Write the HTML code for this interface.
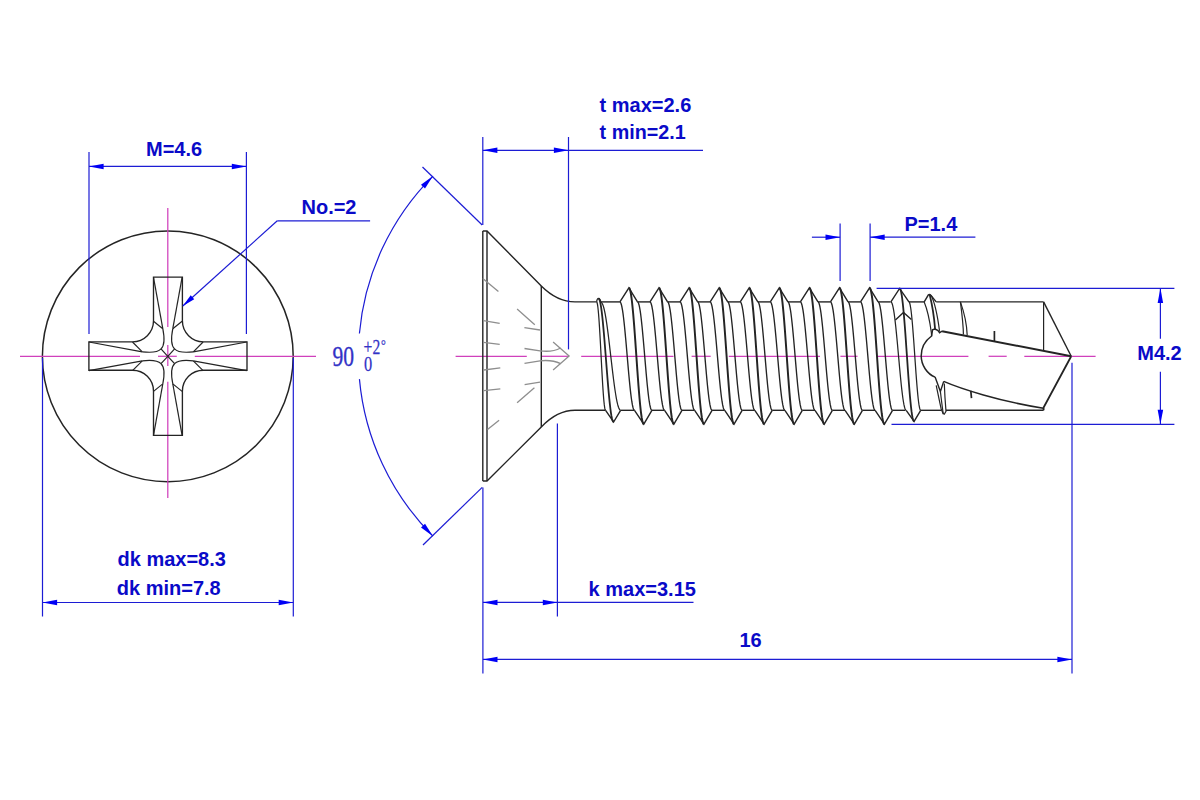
<!DOCTYPE html>
<html><head><meta charset="utf-8"><title>Screw drawing</title>
<style>
html,body{margin:0;padding:0;background:#ffffff;}
body{width:1200px;height:800px;overflow:hidden;}
svg{display:block;font-family:"Liberation Sans",sans-serif;}
</style></head><body>
<svg width="1200" height="800" viewBox="0 0 1200 800" stroke-linecap="butt" stroke-linejoin="miter">
<rect x="0" y="0" width="1200" height="800" fill="#ffffff"/>
<circle cx="167.8" cy="356.3" r="125.4" stroke="#242424" stroke-width="1.5" fill="none"/>
<line x1="20.00" y1="356.30" x2="140.00" y2="356.30" stroke="#d040bc" stroke-width="1.25" />
<line x1="158.00" y1="356.30" x2="176.80" y2="356.30" stroke="#d040bc" stroke-width="1.25" />
<line x1="194.80" y1="356.30" x2="316.00" y2="356.30" stroke="#d040bc" stroke-width="1.25" />
<line x1="167.80" y1="208.00" x2="167.80" y2="327.00" stroke="#d040bc" stroke-width="1.25" />
<line x1="167.80" y1="345.00" x2="167.80" y2="366.00" stroke="#d040bc" stroke-width="1.25" />
<line x1="167.80" y1="381.70" x2="167.80" y2="498.00" stroke="#d040bc" stroke-width="1.25" />
<path d="M153.5,277.1 L182.4,277.1 L182.4,320.8 A21.0,21.0 0 0 0 203.4,341.8 L247.0,341.8 L247.0,370.2 L203.4,370.2 A21.0,21.0 0 0 0 182.4,391.2 L182.4,435.3 L153.5,435.3 L153.5,391.2 A21.0,21.0 0 0 0 132.5,370.2 L88.9,370.2 L88.9,341.8 L132.5,341.8 A21.0,21.0 0 0 0 153.5,320.8 Z" stroke="#242424" stroke-width="1.35" fill="none" />
<line x1="153.50" y1="321.20" x2="162.80" y2="328.70" stroke="#242424" stroke-width="1.2" />
<line x1="132.50" y1="342.00" x2="142.30" y2="351.80" stroke="#242424" stroke-width="1.2" />
<line x1="153.50" y1="277.30" x2="162.80" y2="328.70" stroke="#242424" stroke-width="1.2" />
<line x1="88.90" y1="342.00" x2="142.30" y2="351.80" stroke="#242424" stroke-width="1.2" />
<path d="M162.80,328.70 C164.30,336.30 164.60,345.80 161.00,348.90 C157.30,352.90 149.80,352.70 142.30,351.80" stroke="#242424" stroke-width="1.2" fill="none" />
<line x1="161.00" y1="348.90" x2="167.80" y2="356.30" stroke="#242424" stroke-width="1.2" />
<line x1="153.50" y1="391.40" x2="162.80" y2="383.90" stroke="#242424" stroke-width="1.2" />
<line x1="132.50" y1="370.60" x2="142.30" y2="360.80" stroke="#242424" stroke-width="1.2" />
<line x1="153.50" y1="435.30" x2="162.80" y2="383.90" stroke="#242424" stroke-width="1.2" />
<line x1="88.90" y1="370.60" x2="142.30" y2="360.80" stroke="#242424" stroke-width="1.2" />
<path d="M162.80,383.90 C164.30,376.30 164.60,366.80 161.00,363.70 C157.30,359.70 149.80,359.90 142.30,360.80" stroke="#242424" stroke-width="1.2" fill="none" />
<line x1="161.00" y1="363.70" x2="167.80" y2="356.30" stroke="#242424" stroke-width="1.2" />
<line x1="182.10" y1="321.20" x2="172.80" y2="328.70" stroke="#242424" stroke-width="1.2" />
<line x1="203.10" y1="342.00" x2="193.30" y2="351.80" stroke="#242424" stroke-width="1.2" />
<line x1="182.10" y1="277.30" x2="172.80" y2="328.70" stroke="#242424" stroke-width="1.2" />
<line x1="246.70" y1="342.00" x2="193.30" y2="351.80" stroke="#242424" stroke-width="1.2" />
<path d="M172.80,328.70 C171.30,336.30 171.00,345.80 174.60,348.90 C178.30,352.90 185.80,352.70 193.30,351.80" stroke="#242424" stroke-width="1.2" fill="none" />
<line x1="174.60" y1="348.90" x2="167.80" y2="356.30" stroke="#242424" stroke-width="1.2" />
<line x1="182.10" y1="391.40" x2="172.80" y2="383.90" stroke="#242424" stroke-width="1.2" />
<line x1="203.10" y1="370.60" x2="193.30" y2="360.80" stroke="#242424" stroke-width="1.2" />
<line x1="182.10" y1="435.30" x2="172.80" y2="383.90" stroke="#242424" stroke-width="1.2" />
<line x1="246.70" y1="370.60" x2="193.30" y2="360.80" stroke="#242424" stroke-width="1.2" />
<path d="M172.80,383.90 C171.30,376.30 171.00,366.80 174.60,363.70 C178.30,359.70 185.80,359.90 193.30,360.80" stroke="#242424" stroke-width="1.2" fill="none" />
<line x1="174.60" y1="363.70" x2="167.80" y2="356.30" stroke="#242424" stroke-width="1.2" />
<line x1="89.00" y1="152.00" x2="89.00" y2="334.00" stroke="#1c1cd4" stroke-width="1.2" />
<line x1="246.40" y1="152.00" x2="246.40" y2="334.00" stroke="#1c1cd4" stroke-width="1.2" />
<line x1="89.00" y1="166.40" x2="246.40" y2="166.40" stroke="#1c1cd4" stroke-width="1.2" />
<polygon points="89.00,166.40 103.60,163.65 103.60,169.15" fill="#0000f5"/>
<polygon points="246.40,166.40 231.80,169.15 231.80,163.65" fill="#0000f5"/>
<text transform="translate(146.00,156.30) scale(0.952,1)" font-size="21.0" fill="#0a0ac8" font-weight="bold" >M=4.6</text>
<line x1="42.50" y1="358.00" x2="42.50" y2="616.50" stroke="#1c1cd4" stroke-width="1.2" />
<line x1="293.30" y1="358.00" x2="293.30" y2="616.50" stroke="#1c1cd4" stroke-width="1.2" />
<line x1="42.50" y1="602.50" x2="293.30" y2="602.50" stroke="#1c1cd4" stroke-width="1.2" />
<polygon points="42.50,602.50 57.10,599.75 57.10,605.25" fill="#0000f5"/>
<polygon points="293.30,602.50 278.70,605.25 278.70,599.75" fill="#0000f5"/>
<text transform="translate(117.50,565.80) scale(0.952,1)" font-size="21.0" fill="#0a0ac8" font-weight="bold" >dk max=8.3</text>
<text transform="translate(116.80,595.00) scale(0.952,1)" font-size="21.0" fill="#0a0ac8" font-weight="bold" >dk min=7.8</text>
<line x1="277.30" y1="220.80" x2="370.10" y2="220.80" stroke="#1c1cd4" stroke-width="1.2" />
<line x1="277.30" y1="220.80" x2="182.80" y2="306.00" stroke="#1c1cd4" stroke-width="1.2" />
<polygon points="182.80,306.00 190.71,295.36 194.20,299.23" fill="#0000f5"/>
<text transform="translate(301.50,213.50) scale(0.952,1)" font-size="21.0" fill="#0a0ac8" font-weight="bold" >No.=2</text>
<line x1="455.60" y1="356.30" x2="526.80" y2="356.30" stroke="#d040bc" stroke-width="1.25" />
<line x1="541.80" y1="356.30" x2="568.00" y2="356.30" stroke="#d040bc" stroke-width="1.25" />
<line x1="581.20" y1="356.30" x2="673.50" y2="356.30" stroke="#d040bc" stroke-width="1.25" />
<line x1="691.60" y1="356.30" x2="710.70" y2="356.30" stroke="#d040bc" stroke-width="1.25" />
<line x1="728.80" y1="356.30" x2="820.00" y2="356.30" stroke="#d040bc" stroke-width="1.25" />
<line x1="840.40" y1="356.30" x2="857.50" y2="356.30" stroke="#d040bc" stroke-width="1.25" />
<line x1="877.00" y1="356.30" x2="968.40" y2="356.30" stroke="#d040bc" stroke-width="1.25" />
<line x1="988.60" y1="356.30" x2="1006.70" y2="356.30" stroke="#d040bc" stroke-width="1.25" />
<line x1="1024.30" y1="356.30" x2="1095.60" y2="356.30" stroke="#d040bc" stroke-width="1.25" />
<path d="M482.8,231 L487,231 L541.3,286 Q557.2,301.9 575,301.9 L596.6,301.9" stroke="#242424" stroke-width="1.4" fill="none" />
<path d="M482.8,481 L487,481 L541.3,427 Q557.2,410.3 575,410.3 L605.6,410.3" stroke="#242424" stroke-width="1.4" fill="none" />
<line x1="482.80" y1="231.00" x2="482.80" y2="481.00" stroke="#242424" stroke-width="1.4" />
<line x1="487.00" y1="231.00" x2="487.00" y2="481.00" stroke="#242424" stroke-width="1.4" />
<line x1="541.30" y1="286.00" x2="541.30" y2="427.00" stroke="#242424" stroke-width="1.4" />
<line x1="482.80" y1="278.40" x2="498.40" y2="291.60" stroke="#8e8e8e" stroke-width="1.3" />
<line x1="483.40" y1="320.60" x2="499.70" y2="323.40" stroke="#8e8e8e" stroke-width="1.3" />
<line x1="483.40" y1="342.40" x2="499.70" y2="344.40" stroke="#8e8e8e" stroke-width="1.3" />
<line x1="517.10" y1="309.00" x2="534.80" y2="324.80" stroke="#8e8e8e" stroke-width="1.3" />
<line x1="524.40" y1="327.60" x2="540.00" y2="330.00" stroke="#8e8e8e" stroke-width="1.3" />
<line x1="483.80" y1="370.00" x2="500.30" y2="367.80" stroke="#8e8e8e" stroke-width="1.3" />
<line x1="483.80" y1="390.60" x2="500.30" y2="388.80" stroke="#8e8e8e" stroke-width="1.3" />
<line x1="524.60" y1="384.60" x2="540.00" y2="382.20" stroke="#8e8e8e" stroke-width="1.3" />
<line x1="517.10" y1="402.80" x2="534.40" y2="387.80" stroke="#8e8e8e" stroke-width="1.3" />
<line x1="487.50" y1="429.60" x2="499.10" y2="420.30" stroke="#8e8e8e" stroke-width="1.3" />
<path d="M524.5,348.5 L540,350.8 Q552,352.5 560.6,348" stroke="#8e8e8e" stroke-width="1.3" fill="none" />
<path d="M524.5,363.4 L540,360.8 Q552,359.5 560.6,363.6" stroke="#8e8e8e" stroke-width="1.3" fill="none" />
<path d="M553.1,342 L569.1,355.9 L553.1,370" stroke="#8e8e8e" stroke-width="1.3" fill="none" />
<path d="M619.90,301.9 L628.90,287.8 L637.50,301.9" stroke="#242424" stroke-width="1.4" fill="none" />
<path d="M634.50,410.3 L643.80,424.2 L651.90,410.3" stroke="#242424" stroke-width="1.4" fill="none" />
<path d="M619.90,301.90 L620.42,302.24 L620.94,303.26 L621.46,304.94 L621.99,307.27 L622.51,310.21 L623.03,313.72 L623.55,317.77 L624.07,322.31 L624.59,327.26 L625.11,332.58 L625.64,338.20 L626.16,344.04 L626.68,350.03 L627.20,356.10 L627.72,362.17 L628.24,368.16 L628.76,374.00 L629.29,379.62 L629.81,384.94 L630.33,389.89 L630.85,394.43 L631.37,398.48 L631.89,401.99 L632.41,404.93 L632.94,407.26 L633.46,408.94 L633.98,409.96 L634.50,410.30" stroke="#242424" stroke-width="1.35" fill="none" stroke-linejoin="round"/>
<path d="M628.90,287.80 L629.43,288.23 L629.96,289.51 L630.50,291.63 L631.03,294.55 L631.56,298.25 L632.09,302.68 L632.62,307.78 L633.16,313.48 L633.69,319.72 L634.22,326.41 L634.75,333.47 L635.29,340.82 L635.82,348.36 L636.35,356.00 L636.88,363.64 L637.41,371.18 L637.95,378.53 L638.48,385.59 L639.01,392.28 L639.54,398.52 L640.07,404.22 L640.61,409.32 L641.14,413.75 L641.67,417.45 L642.20,420.37 L642.74,422.49 L643.27,423.77 L643.80,424.20" stroke="#242424" stroke-width="1.95" fill="none" stroke-linejoin="round"/>
<path d="M637.50,301.90 L638.01,302.24 L638.53,303.26 L639.04,304.94 L639.56,307.27 L640.07,310.21 L640.59,313.72 L641.10,317.77 L641.61,322.31 L642.13,327.26 L642.64,332.58 L643.16,338.20 L643.67,344.04 L644.19,350.03 L644.70,356.10 L645.21,362.17 L645.73,368.16 L646.24,374.00 L646.76,379.62 L647.27,384.94 L647.79,389.89 L648.30,394.43 L648.81,398.48 L649.33,401.99 L649.84,404.93 L650.36,407.26 L650.87,408.94 L651.39,409.96 L651.90,410.30" stroke="#242424" stroke-width="1.35" fill="none" stroke-linejoin="round"/>
<path d="M649.98,301.9 L658.98,287.8 L667.58,301.9" stroke="#242424" stroke-width="1.4" fill="none" />
<path d="M664.58,410.3 L673.88,424.2 L681.98,410.3" stroke="#242424" stroke-width="1.4" fill="none" />
<path d="M649.98,301.90 L650.50,302.24 L651.02,303.26 L651.54,304.94 L652.07,307.27 L652.59,310.21 L653.11,313.72 L653.63,317.77 L654.15,322.31 L654.67,327.26 L655.19,332.58 L655.72,338.20 L656.24,344.04 L656.76,350.03 L657.28,356.10 L657.80,362.17 L658.32,368.16 L658.84,374.00 L659.37,379.62 L659.89,384.94 L660.41,389.89 L660.93,394.43 L661.45,398.48 L661.97,401.99 L662.49,404.93 L663.02,407.26 L663.54,408.94 L664.06,409.96 L664.58,410.30" stroke="#242424" stroke-width="1.35" fill="none" stroke-linejoin="round"/>
<path d="M658.98,287.80 L659.51,288.23 L660.04,289.51 L660.58,291.63 L661.11,294.55 L661.64,298.25 L662.17,302.68 L662.71,307.78 L663.24,313.48 L663.77,319.72 L664.30,326.41 L664.83,333.47 L665.37,340.82 L665.90,348.36 L666.43,356.00 L666.96,363.64 L667.49,371.18 L668.03,378.53 L668.56,385.59 L669.09,392.28 L669.62,398.52 L670.15,404.22 L670.69,409.32 L671.22,413.75 L671.75,417.45 L672.28,420.37 L672.82,422.49 L673.35,423.77 L673.88,424.20" stroke="#242424" stroke-width="1.95" fill="none" stroke-linejoin="round"/>
<path d="M667.58,301.90 L668.09,302.24 L668.61,303.26 L669.12,304.94 L669.64,307.27 L670.15,310.21 L670.67,313.72 L671.18,317.77 L671.69,322.31 L672.21,327.26 L672.72,332.58 L673.24,338.20 L673.75,344.04 L674.27,350.03 L674.78,356.10 L675.29,362.17 L675.81,368.16 L676.32,374.00 L676.84,379.62 L677.35,384.94 L677.87,389.89 L678.38,394.43 L678.89,398.48 L679.41,401.99 L679.92,404.93 L680.44,407.26 L680.95,408.94 L681.47,409.96 L681.98,410.30" stroke="#242424" stroke-width="1.35" fill="none" stroke-linejoin="round"/>
<path d="M680.06,301.9 L689.06,287.8 L697.66,301.9" stroke="#242424" stroke-width="1.4" fill="none" />
<path d="M694.66,410.3 L703.96,424.2 L712.06,410.3" stroke="#242424" stroke-width="1.4" fill="none" />
<path d="M680.06,301.90 L680.58,302.24 L681.10,303.26 L681.62,304.94 L682.15,307.27 L682.67,310.21 L683.19,313.72 L683.71,317.77 L684.23,322.31 L684.75,327.26 L685.27,332.58 L685.80,338.20 L686.32,344.04 L686.84,350.03 L687.36,356.10 L687.88,362.17 L688.40,368.16 L688.92,374.00 L689.45,379.62 L689.97,384.94 L690.49,389.89 L691.01,394.43 L691.53,398.48 L692.05,401.99 L692.57,404.93 L693.10,407.26 L693.62,408.94 L694.14,409.96 L694.66,410.30" stroke="#242424" stroke-width="1.35" fill="none" stroke-linejoin="round"/>
<path d="M689.06,287.80 L689.59,288.23 L690.12,289.51 L690.66,291.63 L691.19,294.55 L691.72,298.25 L692.25,302.68 L692.78,307.78 L693.32,313.48 L693.85,319.72 L694.38,326.41 L694.91,333.47 L695.45,340.82 L695.98,348.36 L696.51,356.00 L697.04,363.64 L697.57,371.18 L698.11,378.53 L698.64,385.59 L699.17,392.28 L699.70,398.52 L700.23,404.22 L700.77,409.32 L701.30,413.75 L701.83,417.45 L702.36,420.37 L702.90,422.49 L703.43,423.77 L703.96,424.20" stroke="#242424" stroke-width="1.95" fill="none" stroke-linejoin="round"/>
<path d="M697.66,301.90 L698.17,302.24 L698.69,303.26 L699.20,304.94 L699.72,307.27 L700.23,310.21 L700.75,313.72 L701.26,317.77 L701.77,322.31 L702.29,327.26 L702.80,332.58 L703.32,338.20 L703.83,344.04 L704.35,350.03 L704.86,356.10 L705.37,362.17 L705.89,368.16 L706.40,374.00 L706.92,379.62 L707.43,384.94 L707.95,389.89 L708.46,394.43 L708.97,398.48 L709.49,401.99 L710.00,404.93 L710.52,407.26 L711.03,408.94 L711.55,409.96 L712.06,410.30" stroke="#242424" stroke-width="1.35" fill="none" stroke-linejoin="round"/>
<path d="M710.14,301.9 L719.14,287.8 L727.74,301.9" stroke="#242424" stroke-width="1.4" fill="none" />
<path d="M724.74,410.3 L734.04,424.2 L742.14,410.3" stroke="#242424" stroke-width="1.4" fill="none" />
<path d="M710.14,301.90 L710.66,302.24 L711.18,303.26 L711.70,304.94 L712.23,307.27 L712.75,310.21 L713.27,313.72 L713.79,317.77 L714.31,322.31 L714.83,327.26 L715.35,332.58 L715.88,338.20 L716.40,344.04 L716.92,350.03 L717.44,356.10 L717.96,362.17 L718.48,368.16 L719.00,374.00 L719.53,379.62 L720.05,384.94 L720.57,389.89 L721.09,394.43 L721.61,398.48 L722.13,401.99 L722.65,404.93 L723.18,407.26 L723.70,408.94 L724.22,409.96 L724.74,410.30" stroke="#242424" stroke-width="1.35" fill="none" stroke-linejoin="round"/>
<path d="M719.14,287.80 L719.67,288.23 L720.20,289.51 L720.74,291.63 L721.27,294.55 L721.80,298.25 L722.33,302.68 L722.87,307.78 L723.40,313.48 L723.93,319.72 L724.46,326.41 L724.99,333.47 L725.53,340.82 L726.06,348.36 L726.59,356.00 L727.12,363.64 L727.65,371.18 L728.19,378.53 L728.72,385.59 L729.25,392.28 L729.78,398.52 L730.31,404.22 L730.85,409.32 L731.38,413.75 L731.91,417.45 L732.44,420.37 L732.98,422.49 L733.51,423.77 L734.04,424.20" stroke="#242424" stroke-width="1.95" fill="none" stroke-linejoin="round"/>
<path d="M727.74,301.90 L728.25,302.24 L728.77,303.26 L729.28,304.94 L729.80,307.27 L730.31,310.21 L730.83,313.72 L731.34,317.77 L731.85,322.31 L732.37,327.26 L732.88,332.58 L733.40,338.20 L733.91,344.04 L734.43,350.03 L734.94,356.10 L735.45,362.17 L735.97,368.16 L736.48,374.00 L737.00,379.62 L737.51,384.94 L738.03,389.89 L738.54,394.43 L739.05,398.48 L739.57,401.99 L740.08,404.93 L740.60,407.26 L741.11,408.94 L741.63,409.96 L742.14,410.30" stroke="#242424" stroke-width="1.35" fill="none" stroke-linejoin="round"/>
<path d="M740.22,301.9 L749.22,287.8 L757.82,301.9" stroke="#242424" stroke-width="1.4" fill="none" />
<path d="M754.82,410.3 L764.12,424.2 L772.22,410.3" stroke="#242424" stroke-width="1.4" fill="none" />
<path d="M740.22,301.90 L740.74,302.24 L741.26,303.26 L741.78,304.94 L742.31,307.27 L742.83,310.21 L743.35,313.72 L743.87,317.77 L744.39,322.31 L744.91,327.26 L745.43,332.58 L745.96,338.20 L746.48,344.04 L747.00,350.03 L747.52,356.10 L748.04,362.17 L748.56,368.16 L749.08,374.00 L749.61,379.62 L750.13,384.94 L750.65,389.89 L751.17,394.43 L751.69,398.48 L752.21,401.99 L752.73,404.93 L753.26,407.26 L753.78,408.94 L754.30,409.96 L754.82,410.30" stroke="#242424" stroke-width="1.35" fill="none" stroke-linejoin="round"/>
<path d="M749.22,287.80 L749.75,288.23 L750.28,289.51 L750.82,291.63 L751.35,294.55 L751.88,298.25 L752.41,302.68 L752.95,307.78 L753.48,313.48 L754.01,319.72 L754.54,326.41 L755.07,333.47 L755.61,340.82 L756.14,348.36 L756.67,356.00 L757.20,363.64 L757.73,371.18 L758.27,378.53 L758.80,385.59 L759.33,392.28 L759.86,398.52 L760.39,404.22 L760.93,409.32 L761.46,413.75 L761.99,417.45 L762.52,420.37 L763.06,422.49 L763.59,423.77 L764.12,424.20" stroke="#242424" stroke-width="1.95" fill="none" stroke-linejoin="round"/>
<path d="M757.82,301.90 L758.33,302.24 L758.85,303.26 L759.36,304.94 L759.88,307.27 L760.39,310.21 L760.91,313.72 L761.42,317.77 L761.93,322.31 L762.45,327.26 L762.96,332.58 L763.48,338.20 L763.99,344.04 L764.51,350.03 L765.02,356.10 L765.53,362.17 L766.05,368.16 L766.56,374.00 L767.08,379.62 L767.59,384.94 L768.11,389.89 L768.62,394.43 L769.13,398.48 L769.65,401.99 L770.16,404.93 L770.68,407.26 L771.19,408.94 L771.71,409.96 L772.22,410.30" stroke="#242424" stroke-width="1.35" fill="none" stroke-linejoin="round"/>
<path d="M770.30,301.9 L779.30,287.8 L787.90,301.9" stroke="#242424" stroke-width="1.4" fill="none" />
<path d="M784.90,410.3 L794.20,424.2 L802.30,410.3" stroke="#242424" stroke-width="1.4" fill="none" />
<path d="M770.30,301.90 L770.82,302.24 L771.34,303.26 L771.86,304.94 L772.39,307.27 L772.91,310.21 L773.43,313.72 L773.95,317.77 L774.47,322.31 L774.99,327.26 L775.51,332.58 L776.04,338.20 L776.56,344.04 L777.08,350.03 L777.60,356.10 L778.12,362.17 L778.64,368.16 L779.16,374.00 L779.69,379.62 L780.21,384.94 L780.73,389.89 L781.25,394.43 L781.77,398.48 L782.29,401.99 L782.81,404.93 L783.34,407.26 L783.86,408.94 L784.38,409.96 L784.90,410.30" stroke="#242424" stroke-width="1.35" fill="none" stroke-linejoin="round"/>
<path d="M779.30,287.80 L779.83,288.23 L780.36,289.51 L780.90,291.63 L781.43,294.55 L781.96,298.25 L782.49,302.68 L783.02,307.78 L783.56,313.48 L784.09,319.72 L784.62,326.41 L785.15,333.47 L785.69,340.82 L786.22,348.36 L786.75,356.00 L787.28,363.64 L787.81,371.18 L788.35,378.53 L788.88,385.59 L789.41,392.28 L789.94,398.52 L790.47,404.22 L791.01,409.32 L791.54,413.75 L792.07,417.45 L792.60,420.37 L793.14,422.49 L793.67,423.77 L794.20,424.20" stroke="#242424" stroke-width="1.95" fill="none" stroke-linejoin="round"/>
<path d="M787.90,301.90 L788.41,302.24 L788.93,303.26 L789.44,304.94 L789.96,307.27 L790.47,310.21 L790.99,313.72 L791.50,317.77 L792.01,322.31 L792.53,327.26 L793.04,332.58 L793.56,338.20 L794.07,344.04 L794.59,350.03 L795.10,356.10 L795.61,362.17 L796.13,368.16 L796.64,374.00 L797.16,379.62 L797.67,384.94 L798.19,389.89 L798.70,394.43 L799.21,398.48 L799.73,401.99 L800.24,404.93 L800.76,407.26 L801.27,408.94 L801.79,409.96 L802.30,410.30" stroke="#242424" stroke-width="1.35" fill="none" stroke-linejoin="round"/>
<path d="M800.38,301.9 L809.38,287.8 L817.98,301.9" stroke="#242424" stroke-width="1.4" fill="none" />
<path d="M814.98,410.3 L824.28,424.2 L832.38,410.3" stroke="#242424" stroke-width="1.4" fill="none" />
<path d="M800.38,301.90 L800.90,302.24 L801.42,303.26 L801.94,304.94 L802.47,307.27 L802.99,310.21 L803.51,313.72 L804.03,317.77 L804.55,322.31 L805.07,327.26 L805.59,332.58 L806.12,338.20 L806.64,344.04 L807.16,350.03 L807.68,356.10 L808.20,362.17 L808.72,368.16 L809.24,374.00 L809.77,379.62 L810.29,384.94 L810.81,389.89 L811.33,394.43 L811.85,398.48 L812.37,401.99 L812.89,404.93 L813.42,407.26 L813.94,408.94 L814.46,409.96 L814.98,410.30" stroke="#242424" stroke-width="1.35" fill="none" stroke-linejoin="round"/>
<path d="M809.38,287.80 L809.91,288.23 L810.44,289.51 L810.98,291.63 L811.51,294.55 L812.04,298.25 L812.57,302.68 L813.11,307.78 L813.64,313.48 L814.17,319.72 L814.70,326.41 L815.23,333.47 L815.77,340.82 L816.30,348.36 L816.83,356.00 L817.36,363.64 L817.89,371.18 L818.43,378.53 L818.96,385.59 L819.49,392.28 L820.02,398.52 L820.55,404.22 L821.09,409.32 L821.62,413.75 L822.15,417.45 L822.68,420.37 L823.22,422.49 L823.75,423.77 L824.28,424.20" stroke="#242424" stroke-width="1.95" fill="none" stroke-linejoin="round"/>
<path d="M817.98,301.90 L818.49,302.24 L819.01,303.26 L819.52,304.94 L820.04,307.27 L820.55,310.21 L821.07,313.72 L821.58,317.77 L822.09,322.31 L822.61,327.26 L823.12,332.58 L823.64,338.20 L824.15,344.04 L824.67,350.03 L825.18,356.10 L825.69,362.17 L826.21,368.16 L826.72,374.00 L827.24,379.62 L827.75,384.94 L828.27,389.89 L828.78,394.43 L829.29,398.48 L829.81,401.99 L830.32,404.93 L830.84,407.26 L831.35,408.94 L831.87,409.96 L832.38,410.30" stroke="#242424" stroke-width="1.35" fill="none" stroke-linejoin="round"/>
<path d="M830.46,301.9 L839.46,287.8 L848.06,301.9" stroke="#242424" stroke-width="1.4" fill="none" />
<path d="M845.06,410.3 L854.36,424.2 L862.46,410.3" stroke="#242424" stroke-width="1.4" fill="none" />
<path d="M830.46,301.90 L830.98,302.24 L831.50,303.26 L832.02,304.94 L832.55,307.27 L833.07,310.21 L833.59,313.72 L834.11,317.77 L834.63,322.31 L835.15,327.26 L835.67,332.58 L836.20,338.20 L836.72,344.04 L837.24,350.03 L837.76,356.10 L838.28,362.17 L838.80,368.16 L839.32,374.00 L839.85,379.62 L840.37,384.94 L840.89,389.89 L841.41,394.43 L841.93,398.48 L842.45,401.99 L842.97,404.93 L843.50,407.26 L844.02,408.94 L844.54,409.96 L845.06,410.30" stroke="#242424" stroke-width="1.35" fill="none" stroke-linejoin="round"/>
<path d="M839.46,287.80 L839.99,288.23 L840.52,289.51 L841.06,291.63 L841.59,294.55 L842.12,298.25 L842.65,302.68 L843.19,307.78 L843.72,313.48 L844.25,319.72 L844.78,326.41 L845.31,333.47 L845.85,340.82 L846.38,348.36 L846.91,356.00 L847.44,363.64 L847.97,371.18 L848.51,378.53 L849.04,385.59 L849.57,392.28 L850.10,398.52 L850.63,404.22 L851.17,409.32 L851.70,413.75 L852.23,417.45 L852.76,420.37 L853.30,422.49 L853.83,423.77 L854.36,424.20" stroke="#242424" stroke-width="1.95" fill="none" stroke-linejoin="round"/>
<path d="M848.06,301.90 L848.57,302.24 L849.09,303.26 L849.60,304.94 L850.12,307.27 L850.63,310.21 L851.15,313.72 L851.66,317.77 L852.17,322.31 L852.69,327.26 L853.20,332.58 L853.72,338.20 L854.23,344.04 L854.75,350.03 L855.26,356.10 L855.77,362.17 L856.29,368.16 L856.80,374.00 L857.32,379.62 L857.83,384.94 L858.35,389.89 L858.86,394.43 L859.37,398.48 L859.89,401.99 L860.40,404.93 L860.92,407.26 L861.43,408.94 L861.95,409.96 L862.46,410.30" stroke="#242424" stroke-width="1.35" fill="none" stroke-linejoin="round"/>
<path d="M860.54,301.9 L869.54,287.8 L878.14,301.9" stroke="#242424" stroke-width="1.4" fill="none" />
<path d="M875.14,410.3 L884.44,424.2 L892.54,410.3" stroke="#242424" stroke-width="1.4" fill="none" />
<path d="M860.54,301.90 L861.06,302.24 L861.58,303.26 L862.10,304.94 L862.63,307.27 L863.15,310.21 L863.67,313.72 L864.19,317.77 L864.71,322.31 L865.23,327.26 L865.75,332.58 L866.28,338.20 L866.80,344.04 L867.32,350.03 L867.84,356.10 L868.36,362.17 L868.88,368.16 L869.40,374.00 L869.93,379.62 L870.45,384.94 L870.97,389.89 L871.49,394.43 L872.01,398.48 L872.53,401.99 L873.05,404.93 L873.58,407.26 L874.10,408.94 L874.62,409.96 L875.14,410.30" stroke="#242424" stroke-width="1.35" fill="none" stroke-linejoin="round"/>
<path d="M869.54,287.80 L870.07,288.23 L870.60,289.51 L871.14,291.63 L871.67,294.55 L872.20,298.25 L872.73,302.68 L873.26,307.78 L873.80,313.48 L874.33,319.72 L874.86,326.41 L875.39,333.47 L875.93,340.82 L876.46,348.36 L876.99,356.00 L877.52,363.64 L878.05,371.18 L878.59,378.53 L879.12,385.59 L879.65,392.28 L880.18,398.52 L880.71,404.22 L881.25,409.32 L881.78,413.75 L882.31,417.45 L882.84,420.37 L883.38,422.49 L883.91,423.77 L884.44,424.20" stroke="#242424" stroke-width="1.95" fill="none" stroke-linejoin="round"/>
<path d="M878.14,301.90 L878.65,302.24 L879.17,303.26 L879.68,304.94 L880.20,307.27 L880.71,310.21 L881.23,313.72 L881.74,317.77 L882.25,322.31 L882.77,327.26 L883.28,332.58 L883.80,338.20 L884.31,344.04 L884.83,350.03 L885.34,356.10 L885.85,362.17 L886.37,368.16 L886.88,374.00 L887.40,379.62 L887.91,384.94 L888.43,389.89 L888.94,394.43 L889.45,398.48 L889.97,401.99 L890.48,404.93 L891.00,407.26 L891.51,408.94 L892.03,409.96 L892.54,410.30" stroke="#242424" stroke-width="1.35" fill="none" stroke-linejoin="round"/>
<line x1="637.50" y1="301.90" x2="649.98" y2="301.90" stroke="#242424" stroke-width="1.4" />
<line x1="651.90" y1="410.30" x2="664.58" y2="410.30" stroke="#242424" stroke-width="1.4" />
<line x1="667.58" y1="301.90" x2="680.06" y2="301.90" stroke="#242424" stroke-width="1.4" />
<line x1="681.98" y1="410.30" x2="694.66" y2="410.30" stroke="#242424" stroke-width="1.4" />
<line x1="697.66" y1="301.90" x2="710.14" y2="301.90" stroke="#242424" stroke-width="1.4" />
<line x1="712.06" y1="410.30" x2="724.74" y2="410.30" stroke="#242424" stroke-width="1.4" />
<line x1="727.74" y1="301.90" x2="740.22" y2="301.90" stroke="#242424" stroke-width="1.4" />
<line x1="742.14" y1="410.30" x2="754.82" y2="410.30" stroke="#242424" stroke-width="1.4" />
<line x1="757.82" y1="301.90" x2="770.30" y2="301.90" stroke="#242424" stroke-width="1.4" />
<line x1="772.22" y1="410.30" x2="784.90" y2="410.30" stroke="#242424" stroke-width="1.4" />
<line x1="787.90" y1="301.90" x2="800.38" y2="301.90" stroke="#242424" stroke-width="1.4" />
<line x1="802.30" y1="410.30" x2="814.98" y2="410.30" stroke="#242424" stroke-width="1.4" />
<line x1="817.98" y1="301.90" x2="830.46" y2="301.90" stroke="#242424" stroke-width="1.4" />
<line x1="832.38" y1="410.30" x2="845.06" y2="410.30" stroke="#242424" stroke-width="1.4" />
<line x1="848.06" y1="301.90" x2="860.54" y2="301.90" stroke="#242424" stroke-width="1.4" />
<line x1="862.46" y1="410.30" x2="875.14" y2="410.30" stroke="#242424" stroke-width="1.4" />
<line x1="878.14" y1="301.90" x2="890.62" y2="301.90" stroke="#242424" stroke-width="1.4" />
<line x1="892.54" y1="410.30" x2="905.22" y2="410.30" stroke="#242424" stroke-width="1.4" />
<line x1="601.00" y1="301.90" x2="619.90" y2="301.90" stroke="#242424" stroke-width="1.4" />
<line x1="620.60" y1="410.30" x2="634.60" y2="410.30" stroke="#242424" stroke-width="1.4" />
<path d="M596.6,301.9 Q597,298.6 598.5,298.4 Q600.3,298.6 601,302.6" stroke="#242424" stroke-width="1.2" fill="none" />
<path d="M596.60,301.90 L596.92,302.24 L597.24,303.26 L597.56,304.94 L597.89,307.27 L598.21,310.21 L598.53,313.72 L598.85,317.77 L599.17,322.31 L599.49,327.26 L599.81,332.58 L600.14,338.20 L600.46,344.04 L600.78,350.03 L601.10,356.10 L601.42,362.17 L601.74,368.16 L602.06,374.00 L602.39,379.62 L602.71,384.94 L603.03,389.89 L603.35,394.43 L603.67,398.48 L603.99,401.99 L604.31,404.93 L604.64,407.26 L604.96,408.94 L605.28,409.96 L605.60,410.30" stroke="#242424" stroke-width="1.25" fill="none" stroke-linejoin="round"/>
<path d="M605.6,410.3 L613.6,422 L620.6,410.3" stroke="#242424" stroke-width="1.4" fill="none" />
<path d="M598.50,298.40 L599.04,298.79 L599.58,299.95 L600.12,301.87 L600.66,304.52 L601.20,307.87 L601.74,311.88 L602.27,316.50 L602.81,321.67 L603.35,327.32 L603.89,333.39 L604.43,339.79 L604.97,346.45 L605.51,353.28 L606.05,360.20 L606.59,367.12 L607.13,373.95 L607.67,380.61 L608.21,387.01 L608.75,393.08 L609.29,398.73 L609.83,403.90 L610.36,408.52 L610.90,412.53 L611.44,415.88 L611.98,418.53 L612.52,420.45 L613.06,421.61 L613.60,422.00" stroke="#242424" stroke-width="1.8" fill="none" stroke-linejoin="round"/>
<path d="M601.00,302.40 L601.70,302.74 L602.40,303.75 L603.10,305.43 L603.80,307.74 L604.50,310.67 L605.20,314.17 L605.90,318.20 L606.60,322.71 L607.30,327.65 L608.00,332.94 L608.70,338.53 L609.40,344.34 L610.10,350.31 L610.80,356.35 L611.50,362.39 L612.20,368.36 L612.90,374.17 L613.60,379.76 L614.30,385.05 L615.00,389.99 L615.70,394.50 L616.40,398.53 L617.10,402.03 L617.80,404.96 L618.50,407.27 L619.20,408.95 L619.90,409.96 L620.60,410.30" stroke="#242424" stroke-width="1.25" fill="none" stroke-linejoin="round"/>
<path d="M890.9,301.9 L899.62,288.40000000000003 L908.9,301.9" stroke="#242424" stroke-width="1.4" fill="none" />
<path d="M906.2,410.3 L914.1,421.4 L920.7,410.3" stroke="#242424" stroke-width="1.4" fill="none" />
<path d="M890.90,301.90 L891.45,302.24 L891.99,303.26 L892.54,304.94 L893.09,307.27 L893.63,310.21 L894.18,313.72 L894.73,317.77 L895.27,322.31 L895.82,327.26 L896.36,332.58 L896.91,338.20 L897.46,344.04 L898.00,350.03 L898.55,356.10 L899.10,362.17 L899.64,368.16 L900.19,374.00 L900.74,379.62 L901.28,384.94 L901.83,389.89 L902.38,394.43 L902.92,398.48 L903.47,401.99 L904.01,404.93 L904.56,407.26 L905.11,408.94 L905.65,409.96 L906.20,410.30" stroke="#242424" stroke-width="1.25" fill="none" stroke-linejoin="round"/>
<path d="M899.62,288.40 L900.14,288.82 L900.65,290.07 L901.17,292.13 L901.69,294.99 L902.21,298.59 L902.72,302.91 L903.24,307.88 L903.76,313.44 L904.27,319.52 L904.79,326.05 L905.31,332.94 L905.83,340.10 L906.34,347.45 L906.86,354.90 L907.38,362.35 L907.89,369.70 L908.41,376.86 L908.93,383.75 L909.45,390.28 L909.96,396.36 L910.48,401.92 L911.00,406.89 L911.51,411.21 L912.03,414.81 L912.55,417.67 L913.07,419.73 L913.58,420.98 L914.10,421.40" stroke="#242424" stroke-width="1.8" fill="none" stroke-linejoin="round"/>
<path d="M908.90,301.90 L909.32,302.24 L909.74,303.26 L910.16,304.94 L910.59,307.27 L911.01,310.21 L911.43,313.72 L911.85,317.77 L912.27,322.31 L912.69,327.26 L913.11,332.58 L913.54,338.20 L913.96,344.04 L914.38,350.03 L914.80,356.10 L915.22,362.17 L915.64,368.16 L916.06,374.00 L916.49,379.62 L916.91,384.94 L917.33,389.89 L917.75,394.43 L918.17,398.48 L918.59,401.99 L919.01,404.93 L919.44,407.26 L919.86,408.94 L920.28,409.96 L920.70,410.30" stroke="#242424" stroke-width="1.25" fill="none" stroke-linejoin="round"/>
<path d="M895.4,320 L903.5,312.4 L911.4,319.6" stroke="#242424" stroke-width="1.4" fill="none" />
<line x1="908.90" y1="301.90" x2="924.20" y2="301.90" stroke="#242424" stroke-width="1.4" />
<path d="M924.2,301.9 L928.4,294.8 Q929.6,294.0 931.0,295.4 L936.2,301.9" stroke="#242424" stroke-width="1.4" fill="none" />
<path d="M924.2,301.9 C927.2,309 929.8,321 931.4,333 L931.6,336" stroke="#242424" stroke-width="1.2" fill="none" />
<path d="M929.6,294.4 C932.5,306 934.3,319 935.1,329.2" stroke="#242424" stroke-width="1.8" fill="none" />
<path d="M931.2,295.6 C935.2,303.5 937.4,315 939.5,330.8" stroke="#242424" stroke-width="1.2" fill="none" />
<line x1="936.20" y1="301.90" x2="1043.60" y2="301.90" stroke="#242424" stroke-width="1.4" />
<line x1="1043.60" y1="301.90" x2="1043.60" y2="350.40" stroke="#242424" stroke-width="1.2" />
<line x1="1043.60" y1="301.90" x2="1071.20" y2="356.30" stroke="#242424" stroke-width="1.4" />
<path d="M1071.2,356.3 L1043.6,407.6 L1043.6,410.3" stroke="#242424" stroke-width="1.8" fill="none" />
<line x1="946.00" y1="410.30" x2="1043.60" y2="410.30" stroke="#242424" stroke-width="1.4" />
<line x1="920.70" y1="410.30" x2="941.40" y2="410.30" stroke="#242424" stroke-width="1.4" />
<path d="M942.1,331.2 L1071.2,356.3" stroke="#242424" stroke-width="1.9" fill="none" />
<path d="M942.1,331.2 L939.6,332.6 Q938.6,330.2 934.7,329.0 L932.5,329.9 L931.6,336 C926,340 921.2,347 921.2,356.1 C921.2,365 927,374 935.1,377.1" stroke="#242424" stroke-width="1.5" fill="none" />
<path d="M943.7,381.4 C960,388.5 1000,401.5 1043.4,408.2" stroke="#242424" stroke-width="1.5" fill="none" />
<path d="M935.1,377.1 L940.4,391.5 L943.7,381.4" stroke="#242424" stroke-width="1.4" fill="none" />
<path d="M940.4,391.5 C941.4,400 942.2,407 943.2,413.4 L944.3,414.2 L946,411.4 C945.2,402 944.6,392 944.3,383.6" stroke="#242424" stroke-width="1.2" fill="none" />
<path d="M936.2,385.4 C938,394 939.8,403 941.2,409 L943.4,414.2" stroke="#242424" stroke-width="1.2" fill="none" />
<line x1="994.40" y1="331.00" x2="994.40" y2="341.40" stroke="#242424" stroke-width="1.7" />
<line x1="970.80" y1="390.80" x2="971.50" y2="398.20" stroke="#242424" stroke-width="1.7" />
<path d="M960.4,301.9 C962,314 963.4,326 963.4,334.6" stroke="#242424" stroke-width="1.2" fill="none" />
<path d="M960.4,301.9 C964,312 966.8,324 967.2,335.2" stroke="#242424" stroke-width="1.2" fill="none" />
<line x1="482.80" y1="137.00" x2="482.80" y2="225.00" stroke="#1c1cd4" stroke-width="1.2" />
<line x1="568.50" y1="137.00" x2="568.50" y2="349.40" stroke="#1c1cd4" stroke-width="1.2" />
<line x1="482.80" y1="150.30" x2="703.00" y2="150.30" stroke="#1c1cd4" stroke-width="1.2" />
<polygon points="482.80,150.30 497.40,147.55 497.40,153.05" fill="#0000f5"/>
<polygon points="568.50,150.30 553.90,153.05 553.90,147.55" fill="#0000f5"/>
<text transform="translate(599.60,111.60) scale(0.952,1)" font-size="21.0" fill="#0a0ac8" font-weight="bold" >t max=2.6</text>
<text transform="translate(599.60,138.90) scale(0.94,1)" font-size="21.0" fill="#0a0ac8" font-weight="bold" >t min=2.1</text>
<line x1="840.10" y1="223.40" x2="840.10" y2="281.00" stroke="#1c1cd4" stroke-width="1.2" />
<line x1="870.10" y1="223.40" x2="870.10" y2="281.00" stroke="#1c1cd4" stroke-width="1.2" />
<line x1="811.90" y1="237.20" x2="840.10" y2="237.20" stroke="#1c1cd4" stroke-width="1.2" />
<line x1="870.10" y1="237.20" x2="975.40" y2="237.20" stroke="#1c1cd4" stroke-width="1.2" />
<polygon points="840.10,237.20 825.50,239.95 825.50,234.45" fill="#0000f5"/>
<polygon points="870.10,237.20 884.70,234.45 884.70,239.95" fill="#0000f5"/>
<text transform="translate(904.50,231.00) scale(0.952,1)" font-size="21.0" fill="#0a0ac8" font-weight="bold" >P=1.4</text>
<line x1="876.60" y1="288.30" x2="1174.40" y2="288.30" stroke="#1c1cd4" stroke-width="1.2" />
<line x1="891.50" y1="424.30" x2="1174.40" y2="424.30" stroke="#1c1cd4" stroke-width="1.2" />
<line x1="1160.40" y1="288.30" x2="1160.40" y2="338.70" stroke="#1c1cd4" stroke-width="1.2" />
<line x1="1160.40" y1="371.80" x2="1160.40" y2="424.30" stroke="#1c1cd4" stroke-width="1.2" />
<polygon points="1160.40,288.30 1163.15,302.90 1157.65,302.90" fill="#0000f5"/>
<polygon points="1160.40,424.30 1157.65,409.70 1163.15,409.70" fill="#0000f5"/>
<text transform="translate(1137.30,360.20) scale(0.952,1)" font-size="21.0" fill="#0a0ac8" font-weight="bold" >M4.2</text>
<line x1="557.40" y1="423.40" x2="557.40" y2="616.50" stroke="#1c1cd4" stroke-width="1.2" />
<line x1="482.90" y1="602.40" x2="693.50" y2="602.40" stroke="#1c1cd4" stroke-width="1.2" />
<polygon points="482.90,602.40 497.50,599.65 497.50,605.15" fill="#0000f5"/>
<polygon points="557.40,602.40 542.80,605.15 542.80,599.65" fill="#0000f5"/>
<text transform="translate(588.60,595.80) scale(0.952,1)" font-size="21.0" fill="#0a0ac8" font-weight="bold" >k max=3.15</text>
<line x1="482.90" y1="487.40" x2="482.90" y2="673.50" stroke="#1c1cd4" stroke-width="1.2" />
<line x1="1072.00" y1="362.80" x2="1072.00" y2="673.50" stroke="#1c1cd4" stroke-width="1.2" />
<line x1="482.90" y1="659.40" x2="1072.00" y2="659.40" stroke="#1c1cd4" stroke-width="1.2" />
<polygon points="482.90,659.40 497.50,656.65 497.50,662.15" fill="#0000f5"/>
<polygon points="1072.00,659.40 1057.40,662.15 1057.40,656.65" fill="#0000f5"/>
<text transform="translate(739.50,646.60) scale(0.952,1)" font-size="21.0" fill="#0a0ac8" font-weight="bold" >16</text>
<line x1="422.50" y1="167.00" x2="482.20" y2="225.00" stroke="#1c1cd4" stroke-width="1.2" />
<line x1="482.20" y1="487.40" x2="423.00" y2="545.00" stroke="#1c1cd4" stroke-width="1.2" />
<path d="M432.97,176.07 A254.6,254.6 0 0 0 359.41,333.50" stroke="#1c1cd4" stroke-width="1.2" fill="none" />
<path d="M359.44,379.10 A254.6,254.6 0 0 0 432.97,536.13" stroke="#1c1cd4" stroke-width="1.2" fill="none" />
<polygon points="432.97,176.07 425.01,188.50 421.01,184.72" fill="#0000f5"/>
<polygon points="432.97,536.13 421.01,527.48 425.01,523.70" fill="#0000f5"/>
<text transform="translate(332.4,365.8) scale(0.745,1)" font-family="Liberation Serif, serif" font-size="29" fill="#3232c6" stroke="#3232c6" stroke-width="0.35">90</text>
<text transform="translate(363.6,353.7) scale(0.78,1)" font-family="Liberation Serif, serif" font-size="20" fill="#3232c6" stroke="#3232c6" stroke-width="0.25">+2</text>
<text transform="translate(381.0,350.4) scale(0.8,1)" font-family="Liberation Serif, serif" font-size="15" fill="#3232c6" stroke="#3232c6" stroke-width="0.25">°</text>
<text transform="translate(363.9,370.8) scale(0.8,1)" font-family="Liberation Serif, serif" font-size="20.5" fill="#3232c6" stroke="#3232c6" stroke-width="0.25">0</text>
</svg>
</body></html>
